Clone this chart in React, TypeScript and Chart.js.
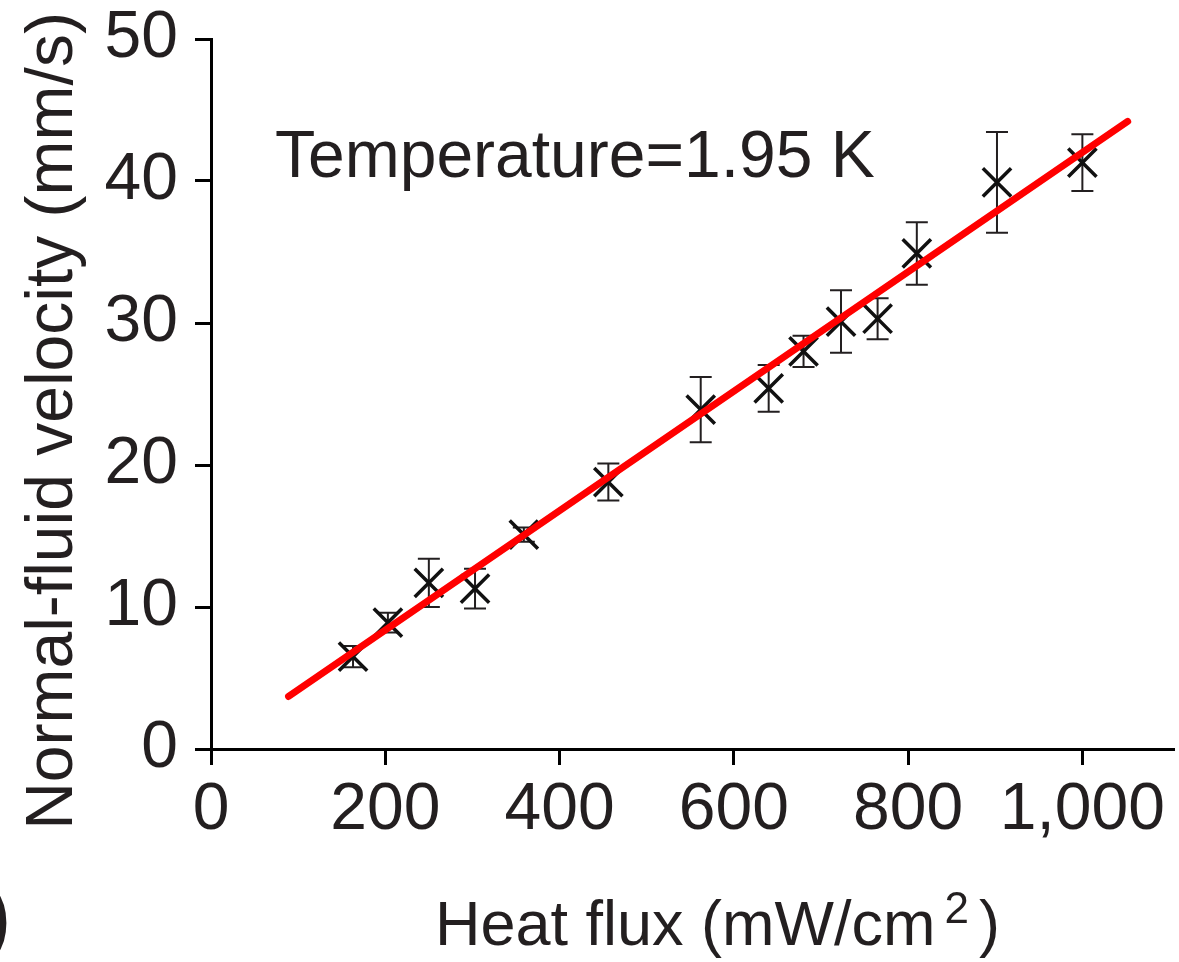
import React, { useEffect, useRef } from 'react';
import { Chart, registerables } from 'chart.js';

Chart.register(...registerables);

// ---- data ----
const heatFlux = [163, 203, 250, 303, 359, 456, 562, 640, 680, 723, 765, 810, 902, 1000];
const velocity = [6.5, 8.9, 11.7, 11.3, 15.1, 18.8, 23.9, 25.4, 28.0, 30.1, 30.3, 34.9, 39.9, 41.3];
const velocityErr = [0.75, 0.7, 1.7, 1.4, 0.5, 1.3, 2.3, 1.65, 1.1, 2.2, 1.45, 2.2, 3.55, 2.0];
const fitX = [89, 1052];
const fitY = [3.7, 44.2];
const xTicks = [0, 200, 400, 600, 800, 1000];
const xTickLabels = ['0', '200', '400', '600', '800', '1,000'];
const yTicks = [0, 10, 20, 30, 40, 50];
const yTickLabels = ['0', '10', '20', '30', '40', '50'];
const xTitleMain = 'Heat flux (mW/cm';
const xTitleSup = '2';
const xTitleEnd = ')';
const yTitle = 'Normal-fluid velocity (mm/s)';
const annotation = 'Temperature=1.95 K';
const panelMark = ')';

const FONT = "'Liberation Sans', Arial, Helvetica, sans-serif";
const INK = '#231f20';

const errorBarPlugin = {
  id: 'errorBars',
  beforeDatasetsDraw(chart: any) {
    const { ctx } = chart;
    const x = chart.scales.x;
    const y = chart.scales.y;
    ctx.save();
    ctx.strokeStyle = INK;
    ctx.lineWidth = 2;
    heatFlux.forEach((hx, i) => {
      const px = x.getPixelForValue(hx);
      const top = y.getPixelForValue(velocity[i] + velocityErr[i]);
      const bot = y.getPixelForValue(velocity[i] - velocityErr[i]);
      ctx.beginPath();
      ctx.moveTo(px, top);
      ctx.lineTo(px, bot);
      ctx.moveTo(px - 11, top);
      ctx.lineTo(px + 11, top);
      ctx.moveTo(px - 11, bot);
      ctx.lineTo(px + 11, bot);
      ctx.stroke();
    });
    ctx.restore();
  },
};

const textPlugin = {
  id: 'texts',
  afterDraw(chart: any) {
    const { ctx } = chart;
    ctx.save();
    ctx.fillStyle = INK;
    ctx.font = `66px ${FONT}`;
    ctx.textBaseline = 'alphabetic';

    // annotation inside plot
    ctx.textAlign = 'left';
    ctx.fillText(annotation, 275, 177);

    // x title with raised superscript
    let tx = 435;
    ctx.font = `63px ${FONT}`;
    ctx.fillText(xTitleMain, tx, 945);
    tx += ctx.measureText(xTitleMain).width + 9;
    ctx.font = `44px ${FONT}`;
    ctx.fillText(xTitleSup, tx, 923);
    tx += ctx.measureText(xTitleSup).width + 10;
    ctx.font = `63px ${FONT}`;
    ctx.fillText(xTitleEnd, tx, 945);

    // y title
    ctx.font = `66px ${FONT}`;
    ctx.save();
    ctx.translate(72, 421);
    ctx.rotate(-Math.PI / 2);
    ctx.textAlign = 'center';
    ctx.fillText(yTitle, 0, 0);
    ctx.restore();

    // cropped panel mark at the lower-left edge
    ctx.font = `bold 72px ${FONT}`;
    ctx.textAlign = 'right';
    ctx.fillText(panelMark, 10, 942);
    ctx.restore();
  },
};

export default function App() {
  const canvasRef = useRef<HTMLCanvasElement | null>(null);

  useEffect(() => {
    const canvas = canvasRef.current;
    if (!canvas) return;
    Chart.defaults.font.family = FONT;
    const chart = new Chart(canvas, {
      type: 'scatter',
      data: {
        datasets: [
          {
            label: 'fit',
            data: fitX.map((v, i) => ({ x: v, y: fitY[i] })),
            showLine: true,
            borderColor: '#ff0000',
            borderWidth: 7,
            borderCapStyle: 'round',
            pointRadius: 0,
            pointHoverRadius: 0,
          },
          {
            label: 'data',
            data: heatFlux.map((v, i) => ({ x: v, y: velocity[i] })),
            pointStyle: 'crossRot',
            pointRadius: 20,
            pointHoverRadius: 20,
            borderColor: '#111111',
            backgroundColor: '#111111',
            pointBorderWidth: 3.5,
            borderWidth: 3.5,
          },
        ],
      },
      options: {
        animation: false,
        responsive: true,
        maintainAspectRatio: false,
        events: [],
        layout: { autoPadding: false, padding: { top: 39, right: 6, left: 0, bottom: 0 } },
        plugins: {
          legend: { display: false },
          tooltip: { enabled: false },
        },
        scales: {
          x: {
            type: 'linear',
            min: 0,
            max: 1104,
            afterBuildTicks: (scale: any) => {
              scale.ticks = xTicks.map((v) => ({ value: v }));
            },
            afterFit: (scale: any) => {
              scale.height = 213;
              scale.paddingLeft = 0;
              scale.paddingRight = 0;
            },
            ticks: {
              autoSkip: false,
              maxRotation: 0,
              minRotation: 0,
              padding: 6,
              color: INK,
              font: { size: 66, family: FONT },
              callback: (value: any) => {
                const idx = xTicks.indexOf(Number(value));
                return idx >= 0 ? xTickLabels[idx] : '';
              },
            },
            grid: {
              drawOnChartArea: false,
              drawTicks: true,
              tickLength: 16,
              tickWidth: 3,
              tickColor: '#000',
              lineWidth: 3,
              color: '#000',
            },
            border: { display: true, color: '#000', width: 3 },
            title: { display: false },
          },
          y: {
            type: 'linear',
            min: 0,
            max: 50,
            afterBuildTicks: (scale: any) => {
              scale.ticks = yTicks.map((v) => ({ value: v }));
            },
            afterFit: (scale: any) => {
              scale.width = 211;
              scale.paddingTop = 0;
              scale.paddingBottom = 0;
            },
            ticks: {
              autoSkip: false,
              padding: 17,
              color: INK,
              font: { size: 66, family: FONT },
              callback: (value: any) => {
                const idx = yTicks.indexOf(Number(value));
                return idx >= 0 ? yTickLabels[idx] : '';
              },
            },
            grid: {
              drawOnChartArea: false,
              drawTicks: true,
              tickLength: 16,
              tickWidth: 3,
              tickColor: '#000',
              lineWidth: 3,
              color: '#000',
            },
            border: { display: true, color: '#000', width: 3 },
            title: { display: false },
          },
        },
      },
      plugins: [errorBarPlugin, textPlugin],
    } as any);
    return () => chart.destroy();
  }, []);

  return (
    <div style={{ position: 'absolute', left: 0, top: 0, width: 1179, height: 962, background: '#fff' }}>
      <canvas ref={canvasRef} />
    </div>
  );
}
